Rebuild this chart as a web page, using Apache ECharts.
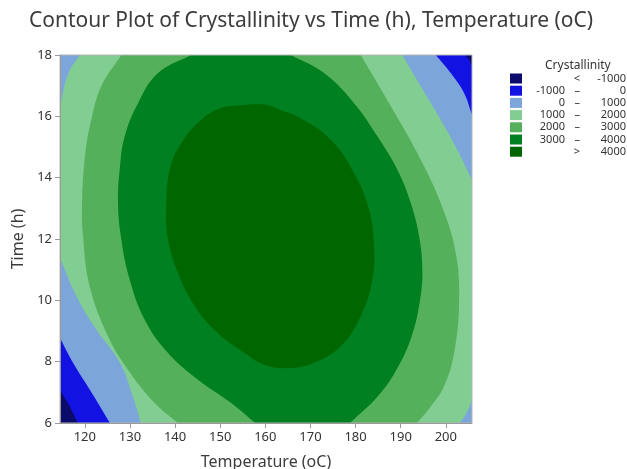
<!DOCTYPE html>
<html>
<head>
<meta charset="utf-8">
<script src="https://cdn.jsdelivr.net/npm/echarts@6/dist/echarts.min.js"></script>
<style>
  html, body { margin: 0; padding: 0; background: #fff; }
  #chart { width: 627px; height: 469px; }
</style>
</head>
<body>
<div id="chart"></div>
<script>
// axis ranges and ticks
const tempRange = [114.5, 205.8];
const timeRange = [6, 18];
const tempTicks = [120, 130, 140, 150, 160, 170, 180, 190, 200];

// contour levels and fill colours (lowest band first)
const levels = [-1000, 0, 1000, 2000, 3000, 4000];
const bandColors = ['#0b0b6b', '#1212e3', '#7ca6da', '#82cd92', '#54b05a', '#008020', '#006600'];

// region outlines as [temperature, time];
// points beyond the axes only close the shapes and get clipped
const regionAll = [[100, 0], [220, 0], [220, 24], [100, 24]];

const regionAboveM1000 = [
  [100, 24], [202.93, 18.29], [204.26, 18], [205.15, 17.84], [205.81, 17.64], [207.14, 17.33],
  [220, 17.33], [220, 0], [120.48, 5.46], [118.49, 6], [116.49, 6.59], [114.5, 7.08],
  [112.5, 7.62], [100, 7.62]
];

const regionAbove0 = [
  [100, 24], [196.06, 18.29], [197.77, 18], [201.09, 17.41], [204.04, 16.76], [205.81, 16.04],
  [206.7, 15.68], [220, 15.68], [220, 0], [126.91, 5.67], [125.58, 6], [121.15, 7.08],
  [117.45, 7.95], [114.5, 8.77], [112.95, 9.21], [100, 9.21]
];

const regionAbove1000 = [
  [120.5, 24], [120.26, 18.29], [118.93, 18], [116.34, 17.4], [114.5, 16.34], [113.95, 16.01],
  [108, 16], [108, 11.67], [113.61, 11.67], [114.5, 11.38], [118.2, 10.12], [122.63, 9.03],
  [127.8, 7.96], [130.68, 6.86], [132.45, 6], [133.13, 5.67], [133.5, 0], [201.5, 0],
  [201.82, 5.71], [203.15, 6], [204.7, 6.36], [205.81, 6.75], [206.7, 7.04], [212, 7.04],
  [212, 13.6], [206.92, 13.6], [205.81, 13.92], [202.93, 14.8], [198.87, 15.89],
  [194.44, 16.98], [190.36, 18], [189.19, 18.29], [189, 24]
];

const regionAbove2000 = [
  [129.5, 24], [129.35, 18.29], [128.09, 18], [123.65, 16.98], [121.44, 15.89], [120.11, 14.8],
  [119.38, 13.17], [119.6, 12.09], [121.08, 10.46], [125.14, 8.83], [129.57, 7.74],
  [135.49, 6.65], [140.65, 6], [143.09, 5.71], [143.5, 0], [191.5, 0], [192.07, 5.71],
  [193.62, 6], [196.66, 6.54], [199.61, 7.2], [201.82, 8.28], [202.93, 9.91], [202.2, 11.54],
  [198.87, 13.17], [193.69, 14.8], [187.42, 16.43], [181.14, 18], [180, 18.29], [180, 24]
];

const regionAbove3000 = [
  [147.2, 24], [147.19, 18.29], [143.53, 18], [136.22, 17.41], [131.79, 16.43], [128.84, 15.35],
  [127.73, 14.26], [127.35, 13.17], [128.09, 11.98], [129.95, 10.67], [133.27, 9.37],
  [138.44, 8.28], [145.08, 7.41], [152.46, 6.65], [157.72, 6], [160, 5.71], [160, 0],
  [176.8, 0], [176.78, 5.71], [178.77, 6], [184.98, 6.88], [189.41, 7.83], [192.51, 8.87],
  [194.29, 10.01], [194.8, 11.0], [194.07, 12.09], [192.23, 13.17], [189.26, 14.26],
  [184.82, 15.35], [179.66, 16.43], [173.01, 17.41], [165.63, 18], [161.8, 18.29], [161.8, 24]
];

const regionAbove4000 = [
  [157.72, 16.39], [160.6, 16.37], [163.26, 16.21], [167.09, 16.0], [174.5, 15.24],
  [179.66, 14.15], [182.98, 12.96], [184.09, 11.76], [183.72, 10.67], [181.14, 9.48],
  [176.71, 8.5], [170.79, 7.96], [164.88, 7.79], [159.71, 7.9], [155.44, 8.28],
  [149.52, 8.93], [144.35, 9.81], [140.65, 10.89], [138.44, 11.98], [138.06, 13.07],
  [138.81, 14.26], [141.38, 15.13], [145.82, 15.89], [149.96, 16.26], [153.95, 16.35]
];

const regions = [regionAll, regionAboveM1000, regionAbove0, regionAbove1000,
  regionAbove2000, regionAbove3000, regionAbove4000];

const fontFamily = '"Noto Sans", "Open Sans", sans-serif';

// legend text columns
const bandLow = [' ', levels[0], levels[1], levels[2], levels[3], levels[4], ' '];
const bandSep = ['<', '–', '–', '–', '–', '–', '>'];
const bandHigh = [levels[0], levels[1], levels[2], levels[3], levels[4], levels[5], levels[5]];
const bandNames = bandLow.map((lo, i) => `${lo} ${bandSep[i]} ${bandHigh[i]}`.trim());

const chart = echarts.init(document.getElementById('chart'), null, { renderer: 'canvas' });

const polySeries = (name, color, pts, smooth) => ({
  name: name,
  type: 'custom',
  coordinateSystem: 'cartesian2d',
  clip: true,
  silent: true,
  itemStyle: { color: color },
  data: [pts[0]],
  renderItem: (params, api) => ({
    type: 'polygon',
    shape: { points: pts.map(p => api.coord(p)), smooth: smooth },
    style: { fill: api.visual('color'), stroke: null }
  })
});

const option = {
  animation: false,
  textStyle: { fontFamily: fontFamily },
  title: [
    {
      text: 'Contour Plot of Crystallinity vs Time (h), Temperature (oC)',
      left: 24,
      top: 6,
      textStyle: { fontSize: 21, fontWeight: 'normal', color: '#3c3c3c', fontFamily: fontFamily }
    },
    {
      text: 'Crystallinity',
      left: 545,
      top: 60,
      padding: 0,
      textStyle: { fontSize: 12, fontWeight: 'normal', color: '#333', fontFamily: fontFamily }
    }
  ],
  legend: {
    orient: 'vertical',
    left: 510,
    top: 73,
    padding: 0,
    itemWidth: 12,
    itemHeight: 10,
    itemGap: 1.2,
    icon: 'rect',
    selectedMode: false,
    data: bandNames,
    formatter: (name) => {
      const i = bandNames.indexOf(name);
      return `{a|${bandLow[i]}}{b|${bandSep[i]}}{c|${bandHigh[i]}}`;
    },
    textStyle: {
      fontSize: 11,
      color: '#333',
      lineHeight: 10,
      rich: {
        a: { width: 38, align: 'right', fontSize: 11, color: '#333', lineHeight: 10 },
        b: { width: 15, align: 'right', fontSize: 11, color: '#333', lineHeight: 10 },
        c: { width: 46, align: 'right', fontSize: 11, color: '#333', lineHeight: 10 }
      }
    }
  },
  grid: {
    left: 60,
    right: 155,
    top: 55,
    bottom: 46,
    outerBoundsMode: 'none',
    show: true,
    borderColor: '#b4b4b4',
    borderWidth: 1,
    z: 10
  },
  xAxis: {
    type: 'value',
    min: tempRange[0],
    max: tempRange[1],
    name: 'Temperature (oC)',
    nameLocation: 'middle',
    nameGap: 31,
    nameTextStyle: { fontSize: 16, color: '#3c3c3c' },
    axisLine: { show: true, lineStyle: { color: '#9a9a9a' } },
    axisTick: { show: true, length: 5, lineStyle: { color: '#9a9a9a' }, customValues: tempTicks },
    axisLabel: { fontSize: 13, color: '#333', margin: 8, customValues: tempTicks },
    splitLine: { show: false },
    z: 10
  },
  yAxis: {
    type: 'value',
    min: timeRange[0],
    max: timeRange[1],
    interval: 2,
    name: 'Time (h)',
    nameLocation: 'middle',
    nameGap: 34,
    nameTextStyle: { fontSize: 16, color: '#3c3c3c' },
    axisLine: { show: true, lineStyle: { color: '#9a9a9a' } },
    axisTick: { show: true, length: 5, lineStyle: { color: '#9a9a9a' } },
    axisLabel: { fontSize: 13, color: '#333', margin: 8 },
    splitLine: { show: false },
    z: 10
  },
  series: regions.map((pts, i) => polySeries(bandNames[i], bandColors[i], pts, i === 0 ? 0 : 0.4))
};

chart.setOption(option);
</script>
</body>
</html>
